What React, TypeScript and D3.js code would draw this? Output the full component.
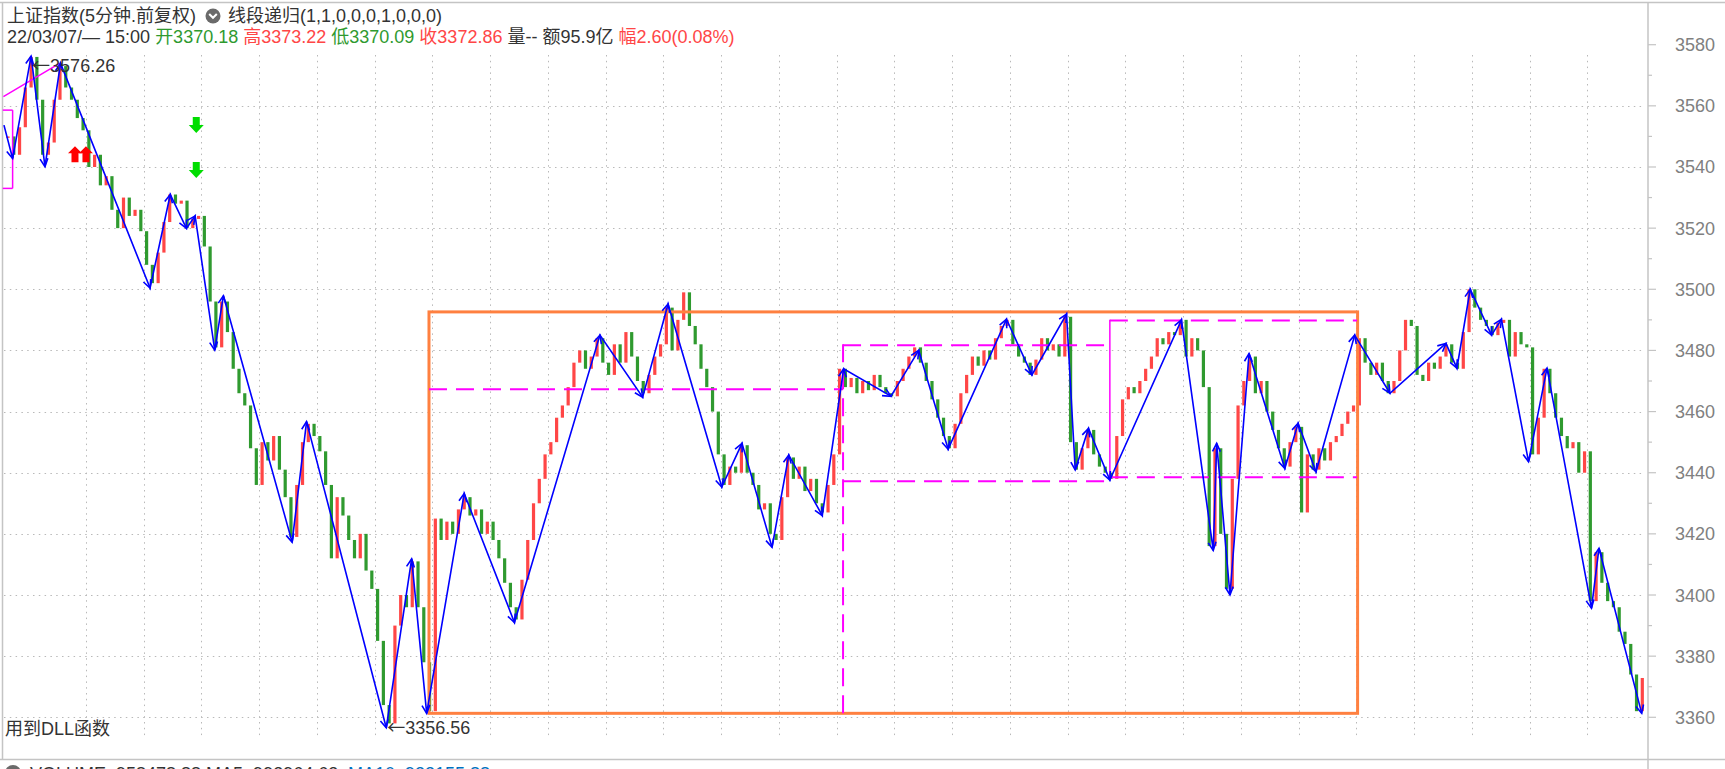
import React, { useEffect, useRef } from "react";
import * as d3 from "d3";

// 5-minute closes, oldest first (10 samples per trading day)
const closes: number[] = [
  3550, 3544, 3553, 3566, 3576, 3562, 3544, 3548, 3562, 3573, 3566, 3562, 3556, 3552,
  3540, 3544, 3534, 3537, 3526, 3520, 3530, 3524, 3526, 3519,
  3508, 3502, 3512, 3522, 3531, 3528, 3529, 3520, 3523, 3524,
  3514, 3496, 3481, 3496, 3486, 3474, 3466, 3462, 3448, 3436,
  3450, 3444, 3452, 3441, 3432, 3419, 3436, 3450, 3456, 3452,
  3447, 3436, 3412, 3432, 3426, 3418, 3412, 3420, 3408, 3402,
  3385, 3364, 3358, 3390, 3400, 3396, 3411, 3396, 3378, 3362,
  3425, 3418, 3424, 3420, 3428, 3432, 3426, 3428, 3420, 3424,
  3418, 3412, 3404, 3396, 3392, 3405, 3418, 3430, 3438, 3446,
  3450, 3458, 3462, 3468, 3476, 3480, 3474, 3478, 3484, 3476,
  3472, 3482, 3476, 3486, 3478, 3470, 3466, 3472, 3478, 3482,
  3494, 3480, 3490, 3499, 3488, 3482, 3474, 3468, 3460, 3446,
  3436, 3442, 3440, 3449, 3440, 3436, 3428, 3430, 3420, 3418,
  3432, 3445, 3438, 3442, 3434, 3438, 3430, 3427, 3436, 3446,
  3474, 3468, 3471, 3466, 3470, 3467, 3472, 3468, 3466, 3465,
  3470, 3474, 3478, 3481, 3476, 3470, 3464, 3458, 3452, 3448,
  3456, 3466, 3472, 3478, 3475, 3480, 3477, 3484, 3488, 3490,
  3482, 3478, 3476, 3472, 3477, 3484, 3480, 3482, 3478, 3491,
  3450, 3441, 3448, 3454, 3446, 3442, 3440, 3438, 3452, 3464,
  3468, 3466, 3470, 3474, 3478, 3484, 3482, 3486, 3485, 3490,
  3478, 3484, 3480, 3468, 3416, 3448, 3420, 3402, 3438, 3462,
  3470, 3478, 3466, 3470, 3460, 3454, 3448, 3442, 3450, 3455,
  3427, 3446, 3441, 3448, 3444, 3450, 3452, 3456, 3460, 3462,
  3484, 3476, 3472, 3476, 3470, 3466, 3470, 3480, 3490, 3488,
  3472, 3470, 3476, 3474, 3478, 3482, 3476, 3474, 3486, 3500,
  3494, 3490, 3488, 3485, 3489, 3490, 3478, 3486, 3482, 3481,
  3446, 3458, 3474, 3466, 3458, 3452, 3448, 3450, 3440, 3447,
  3398, 3414, 3404, 3398, 3396, 3388, 3384, 3374, 3362, 3372.86,
];

// 线段 turning points (bar position, price)
const pivotPos: number[] = [
  -0.7, 0.8, 4.0, 6.4, 9.1, 24.6, 28.1, 30.9, 32.4, 35.8, 37.3, 49.2, 51.7, 65.5,
  69.9, 72.5, 79.0, 87.7, 102.5, 109.9, 114.3, 123.6, 127.1, 132.3, 135.2, 141.0,
  144.7, 152.9, 157.7, 162.8, 172.9, 177.3, 183.3, 184.8, 187.1, 190.8, 203.2,
  208.7, 209.3, 211.6, 214.9, 221.1, 223.4, 226.5, 233.2, 239.3, 249.0, 250.9,
  253.2, 256.9, 258.6, 263.3, 266.5, 274.2, 275.5, 282.9,
];
const pivotVal: number[] = [
  3553.7, 3542.8, 3576.26, 3540.1, 3573.9, 3500.4, 3531, 3519.9, 3524, 3480.1,
  3497.9, 3417.3, 3456.7, 3356.56, 3411.8, 3361.3, 3433.2, 3391, 3485, 3464.7,
  3495.2, 3435.3, 3449.6, 3415.6, 3445.8, 3426, 3474, 3465, 3480, 3447.7,
  3490.2, 3472, 3491.9, 3440.9, 3454.5, 3437.6, 3490, 3414.6, 3449.6, 3400,
  3479, 3441.4, 3456.2, 3440.3, 3485, 3466, 3482.3, 3474.2, 3500, 3485,
  3490.2, 3443.6, 3474.2, 3395.7, 3415.3, 3361.3,
];

// signals
const buyPos = [11.6, 13.5];
const buyVal = [3544.2, 3544.2];
const sellPos = [32.6, 32.6];
const sellVal = [3553.7, 3539];

// central box (中枢)
const boxPos = [72.9, 233.7];
const boxVal = [3492.6, 3361.3];

// sub-zone lines: [pos0, val0, pos1, val1]
const zoneDashed: [number, number, number, number][] = [
  [72.9, 3467.3, 144.6, 3467.3],
  [144.6, 3482, 144.6, 3361.3],
  [144.6, 3481.7, 190.8, 3481.7],
  [144.6, 3437.2, 190.8, 3437.2],
  [190.8, 3489.8, 233.6, 3489.8],
  [190.8, 3438.5, 233.6, 3438.5],
];
const zoneSolid: [number, number, number, number][] = [
  [-0.8, 3563, 9.0, 3574],
  [-0.9, 3558.6, 0.8, 3558.6],
  [0.8, 3558.6, 0.8, 3533],
  [0.8, 3533, -0.9, 3533],
  [190.8, 3490, 190.8, 3437.6],
];

const priceTicks = [3360, 3380, 3400, 3420, 3440, 3460, 3480, 3500, 3520, 3540, 3560, 3580];
const minorTicks = [3370, 3390, 3410, 3430, 3450, 3470, 3490, 3510, 3530, 3550, 3570];

const titleText = "上证指数(5分钟.前复权)";
const studyText = "线段递归(1,1,0,0,0,1,0,0,0)";
const quoteParts = [
  { text: "22/03/07/— 15:00 ", kind: "flat" },
  { text: "开3370.18 ", kind: "down" },
  { text: "高3373.22 ", kind: "up" },
  { text: "低3370.09 ", kind: "down" },
  { text: "收3372.86 ", kind: "up" },
  { text: "量-- 额95.9亿 ", kind: "flat" },
  { text: "幅2.60(0.08%)", kind: "up" },
];
const volumeText = "VOLUME: 958478.88  MA5: 993964.63";
const ma10Text = "MA10: 933155.88";
const noteText = "用到DLL函数";

const W = 1725;
const H = 769;
const FONT = "'Liberation Sans', 'Noto Sans CJK SC', sans-serif";
const RED = "#ff4646";
const GREEN = "#2f9a2f";
const TEXT = "#333333";

export default function App() {
  const svgRef = useRef<SVGSVGElement | null>(null);

  useEffect(() => {
    if (!svgRef.current) return;
    const svg = d3.select(svgRef.current);
    svg.selectAll("*").remove();

    const axisX = 1648;
    const x = d3.scaleLinear().domain([0, closes.length - 1]).range([8, 1642.3]);
    const y = d3.scaleLinear().domain([3360, 3580]).range([717.3, 44.7]);

    svg.append("rect").attr("width", W).attr("height", H).attr("fill", "#ffffff");

    // dotted grid
    const gridColor = "#b9b9b9";
    svg.append("g")
      .selectAll("line")
      .data(priceTicks.filter((v) => v < 3580))
      .join("line")
      .attr("x1", 4).attr("x2", axisX - 3)
      .attr("y1", (d) => Math.round(y(d)) + 0.5).attr("y2", (d) => Math.round(y(d)) + 0.5)
      .attr("stroke", gridColor).attr("stroke-dasharray", "1.5,4.3");

    svg.append("g")
      .selectAll("line")
      .data(d3.range(13.5, closes.length - 5, 10))
      .join("line")
      .attr("x1", (d) => Math.round(x(d)) + 0.5).attr("x2", (d) => Math.round(x(d)) + 0.5)
      .attr("y1", 55).attr("y2", 736)
      .attr("stroke", gridColor).attr("stroke-dasharray", "1.5,4.3");

    // frame
    const frame = "#c4c4c4";
    svg.append("line").attr("x1", 0).attr("x2", W).attr("y1", 2.5).attr("y2", 2.5).attr("stroke", frame).attr("stroke-width", 1.5);
    svg.append("line").attr("x1", 2.5).attr("x2", 2.5).attr("y1", 2).attr("y2", 759).attr("stroke", frame).attr("stroke-width", 1.5);
    svg.append("line").attr("x1", 0).attr("x2", W).attr("y1", 759.5).attr("y2", 759.5).attr("stroke", frame).attr("stroke-width", 1.5);
    svg.append("line").attr("x1", axisX).attr("x2", axisX).attr("y1", 2).attr("y2", H).attr("stroke", frame).attr("stroke-width", 1.5);

    // price axis
    const axis = svg.append("g").attr("font-family", FONT).attr("font-size", 18).attr("fill", "#808080");
    axis.selectAll("line.major").data(priceTicks).join("line")
      .attr("x1", axisX).attr("x2", axisX + 8)
      .attr("y1", (d) => y(d)).attr("y2", (d) => y(d))
      .attr("stroke", frame).attr("stroke-width", 1.2);
    axis.selectAll("line.minor").data(minorTicks).join("line")
      .attr("x1", axisX).attr("x2", axisX + 4)
      .attr("y1", (d) => y(d)).attr("y2", (d) => y(d))
      .attr("stroke", frame).attr("stroke-width", 1.2);
    axis.selectAll("text").data(priceTicks).join("text")
      .attr("x", 1675).attr("y", (d) => y(d) + 6.5)
      .text((d) => String(d));

    // bars: each sample drawn from the previous close to its close
    const bw = 3.2;
    svg.append("g")
      .selectAll("rect")
      .data(closes)
      .join("rect")
      .attr("x", (_, i) => x(i) - bw / 2)
      .attr("width", bw)
      .attr("y", (d, i) => y(Math.max(d, i > 0 ? closes[i - 1] : d)))
      .attr("height", (d, i) => Math.max(1.5, Math.abs(y(d) - y(i > 0 ? closes[i - 1] : d))))
      .attr("fill", (d, i) => (i > 0 && d < closes[i - 1] ? GREEN : RED));

    // central box
    svg.append("rect")
      .attr("x", x(boxPos[0])).attr("y", y(boxVal[0]))
      .attr("width", x(boxPos[1]) - x(boxPos[0]))
      .attr("height", y(boxVal[1]) - y(boxVal[0]))
      .attr("fill", "none").attr("stroke", "#ff8040").attr("stroke-width", 3);

    // magenta zones
    svg.append("g").selectAll("line").data(zoneDashed).join("line")
      .attr("x1", (d) => x(d[0])).attr("y1", (d) => y(d[1]))
      .attr("x2", (d) => x(d[2])).attr("y2", (d) => y(d[3]))
      .attr("stroke", "#ff00ff").attr("stroke-width", 2).attr("stroke-dasharray", "18,9");
    svg.append("g").selectAll("line").data(zoneSolid).join("line")
      .attr("x1", (d) => x(d[0])).attr("y1", (d) => y(d[1]))
      .attr("x2", (d) => x(d[2])).attr("y2", (d) => y(d[3]))
      .attr("stroke", "#ff00ff").attr("stroke-width", 1.5);

    // segments with arrowheads
    const pts = pivotPos.map((p, i) => [x(p), y(pivotVal[i])] as [number, number]);
    svg.append("path")
      .attr("d", d3.line()(pts))
      .attr("fill", "none").attr("stroke", "#0000ff").attr("stroke-width", 1.6);
    const heads = svg.append("g").attr("stroke", "#0000ff").attr("stroke-width", 1.6).attr("fill", "none");
    pts.slice(1).forEach((p, k) => {
      const q = pts[k];
      const a = Math.atan2(p[1] - q[1], p[0] - q[0]);
      const L = 9;
      const t = 0.45;
      heads.append("path").attr("d",
        `M${p[0] - L * Math.cos(a - t)},${p[1] - L * Math.sin(a - t)}L${p[0]},${p[1]}L${p[0] - L * Math.cos(a + t)},${p[1] - L * Math.sin(a + t)}`);
    });

    // extreme labels (high sits a little under its point, low beside it)
    const labels = svg.append("g").attr("font-family", FONT).attr("font-size", 18).attr("fill", TEXT);
    [
      { k: d3.maxIndex(pivotVal), dy: 15.5 },
      { k: d3.minIndex(pivotVal), dy: 6.5 },
    ].forEach(({ k, dy }) => {
      const t = labels.append("text")
        .attr("x", x(pivotPos[k]) + 1)
        .attr("y", y(pivotVal[k]) + dy);
      t.append("tspan").attr("font-family", "'Noto Sans CJK SC', sans-serif").text("←");
      t.append("tspan").text(pivotVal[k].toFixed(2));
    });

    // buy / sell markers
    buyPos.forEach((p, i) => {
      const cx = x(p);
      const cy = y(buyVal[i]);
      svg.append("path")
        .attr("d", `M${cx},${cy - 8}L${cx + 7},${cy - 1}L${cx + 3.5},${cy - 1}L${cx + 3.5},${cy + 8}L${cx - 3.5},${cy + 8}L${cx - 3.5},${cy - 1}L${cx - 7},${cy - 1}Z`)
        .attr("fill", "#ff0000");
    });
    sellPos.forEach((p, i) => {
      const cx = x(p);
      const cy = y(sellVal[i]);
      svg.append("path")
        .attr("d", `M${cx - 3.5},${cy - 8}L${cx + 3.5},${cy - 8}L${cx + 3.5},${cy}L${cx + 7.5},${cy}L${cx},${cy + 8}L${cx - 7.5},${cy}L${cx - 3.5},${cy}Z`)
        .attr("fill", "#00dd00");
    });

    // header
    const head = svg.append("g").attr("font-family", FONT).attr("font-size", 18).attr("fill", TEXT);
    head.append("text").attr("x", 7).attr("y", 22).text(titleText);
    head.append("circle").attr("cx", 213).attr("cy", 16).attr("r", 7.5).attr("fill", "#6a6a6a");
    head.append("path").attr("d", "M209.2,14L213,17.8L216.8,14").attr("stroke", "#ffffff").attr("stroke-width", 2).attr("fill", "none");
    head.append("text").attr("x", 228).attr("y", 22).text(studyText);
    const quote = head.append("text").attr("x", 7).attr("y", 42.5).attr("xml:space", "preserve");
    quoteParts.forEach((q) => {
      quote.append("tspan")
        .attr("fill", q.kind === "up" ? RED : q.kind === "down" ? GREEN : TEXT)
        .text(q.text);
    });

    head.append("text").attr("x", 5).attr("y", 735).text(noteText);

    // volume pane title (cut by the window)
    svg.append("circle").attr("cx", 13).attr("cy", 773).attr("r", 8).attr("fill", "#6a6a6a");
    const vol = svg.append("text").attr("font-family", FONT).attr("font-size", 18).attr("y", 779.5);
    vol.append("tspan").attr("x", 30).attr("fill", TEXT).text(volumeText);
    vol.append("tspan").attr("x", 348).attr("fill", "#0070c0").text(ma10Text);
  }, []);

  return (
    <div style={{ width: W, height: H, overflow: "hidden" }}>
      <style>{`body{margin:0}`}</style>
      <svg ref={svgRef} width={W} height={H} style={{ display: "block" }} />
    </div>
  );
}
